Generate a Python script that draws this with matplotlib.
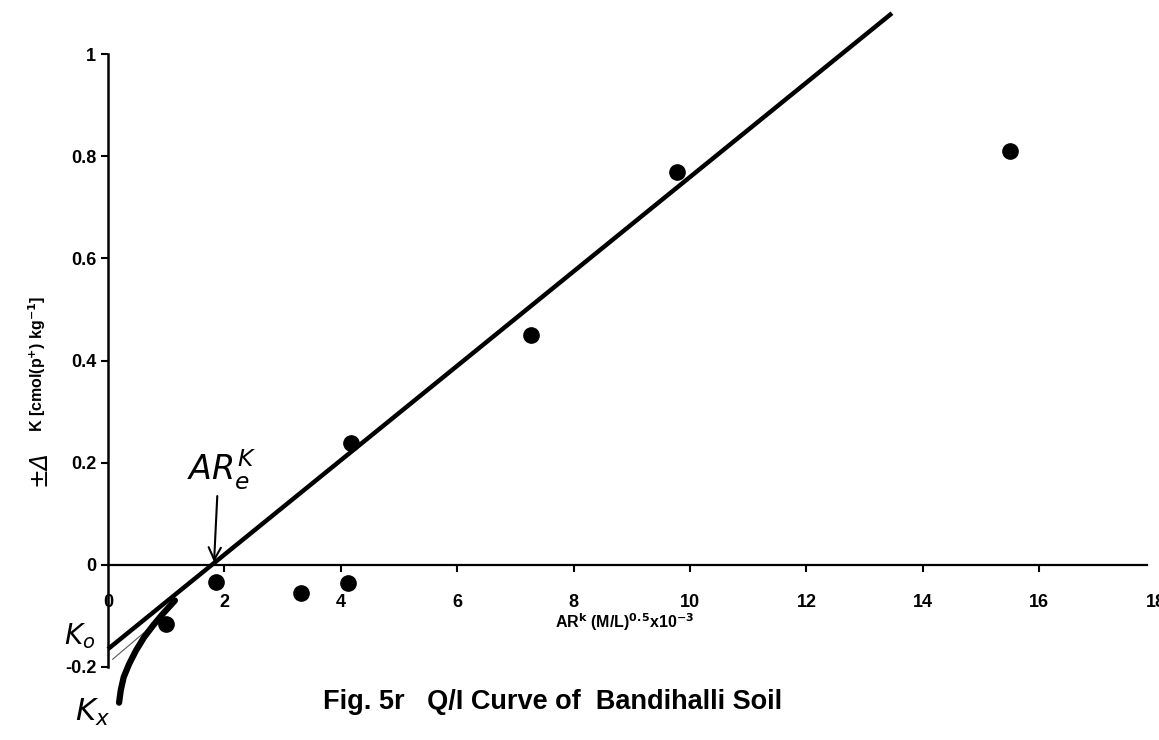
import numpy as np
import matplotlib.pyplot as plt

plt.rcParams['font.family'] = ['Liberation Sans', 'DejaVu Sans']

# measured Q/I points
ar_k = [1.0, 1.86, 3.32, 4.13, 4.18, 7.27, 9.78, 15.5]
delta_k = [-0.115, -0.034, -0.055, -0.035, 0.239, 0.45, 0.769, 0.81]

# fitted straight line (end points)
fit_x = [0.0, 13.47]
fit_y = [-0.165, 1.08]

# hand drawn curve towards Kx
curve_x = [0.19, 0.22, 0.27, 0.36, 0.48, 0.62, 0.78, 0.95, 1.15]
curve_y = [-0.27, -0.245, -0.22, -0.195, -0.168, -0.142, -0.118, -0.095, -0.07]

xticks = [0, 2, 4, 6, 8, 10, 12, 14, 16, 18]
yticks = [-0.2, 0, 0.2, 0.4, 0.6, 0.8, 1.0]
ytick_lbls = ['-0.2', '0', '0.2', '0.4', '0.6', '0.8', '1']

fig = plt.figure(figsize=(11.59, 7.40), dpi=100)
ax = fig.add_axes([108/1159, 22/740, 1047.6/1159, 715/740])
ax.set_xlim(0, 18)
ax.set_ylim(-0.3, 1.1)

ax.plot(fit_x, fit_y, color='black', lw=3.2, solid_capstyle='butt', clip_on=False, zorder=3)
ax.plot(curve_x, curve_y, color='black', lw=4.5, solid_capstyle='round', clip_on=False, zorder=3)
ax.plot([0.08, 0.7], [-0.185, -0.125], color='0.35', lw=0.8, clip_on=False)
ax.plot(ar_k, delta_k, 'o', color='black', ms=11, clip_on=False, zorder=4)

# axes the excel way: x axis through zero
for s in ['top', 'right']:
    ax.spines[s].set_visible(False)
ax.spines['bottom'].set_position(('data', 0))
ax.spines['bottom'].set_bounds(0, 17.85)
ax.spines['left'].set_bounds(-0.2, 1.0)
ax.spines['bottom'].set_linewidth(1.6)
ax.spines['left'].set_linewidth(1.8)

ax.set_xticks(xticks)
ax.set_xticklabels([str(t) for t in xticks], fontsize=13, fontweight='bold')
ax.set_yticks(yticks)
ax.set_yticklabels(ytick_lbls, fontsize=13, fontweight='bold')
ax.tick_params(axis='x', direction='out', length=5, width=1.5, pad=16)
ax.tick_params(axis='y', direction='out', length=5, width=1.5, pad=3.5)
xt = ax.xaxis.get_major_ticks()
xt[0].tick1line.set_visible(False)
xt[-1].tick1line.set_visible(False)

# axis titles
fig.text(625/1159, 1 - 622/740, r'AR$^{\mathbf{k}}$ (M/L)$^{\mathbf{0.5}}$x10$^{\mathbf{-3}}$',
         fontsize=11.5, fontweight='bold', ha='center', va='center')
fig.text(37/1159, 1 - 364/740, r'K [cmol(p$^{\mathbf{+}}$) kg$^{\mathbf{-1}}$]',
         fontsize=11.5, fontweight='bold', rotation=90, ha='center', va='center')
fig.text(38/1159, 1 - 468/740, '±Δ', fontsize=17, rotation=90, ha='center', va='center',
         family='DejaVu Sans', style='italic')

fig.text(323/1159, 1 - 702/740, 'Fig. 5r   Q/I Curve of  Bandihalli Soil',
         fontsize=19.5, fontweight='bold', ha='left', va='center')

# handwritten marks
fig.text(222/1159, 1 - 470/740, r'$\mathit{AR_e^K}$', fontsize=24, ha='center', va='center')
ax.annotate('', xy=(1.82, 0.0), xytext=(1.88, 0.14),
            arrowprops=dict(arrowstyle='->', lw=1.5, color='black', mutation_scale=22))
fig.text(80/1159, 1 - 636/740, r'$\mathit{K_o}$', fontsize=20, ha='center', va='center')
fig.text(92/1159, 1 - 712/740, r'$\mathit{K_x}$', fontsize=22, ha='center', va='center')

fig.savefig('out.png', dpi=100)
